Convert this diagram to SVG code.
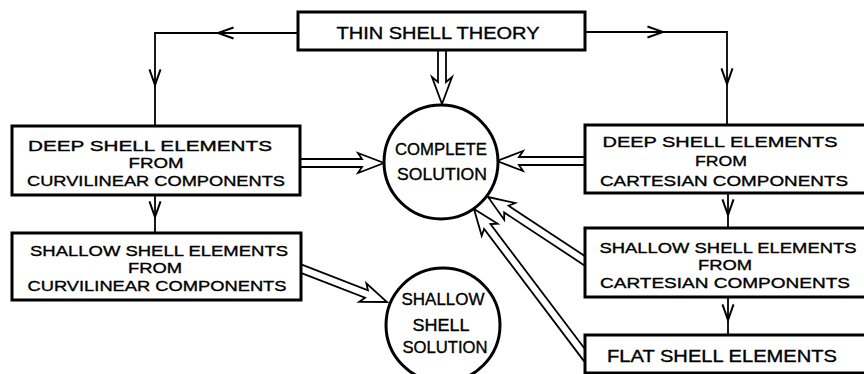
<svg xmlns="http://www.w3.org/2000/svg" width="864" height="374" viewBox="0 0 864 374">
<style>
.box{fill:#fff;stroke:#000;stroke-width:3}
.circ{fill:#fff;stroke:#000;stroke-width:3}
.ln{fill:none;stroke:#000;stroke-width:1.8}
.hol{fill:#fff;stroke:#000;stroke-width:1.8;stroke-linejoin:miter}
text{font-family:"Liberation Sans",Arial,sans-serif;font-size:15px;fill:#000;text-anchor:middle;stroke:#000;stroke-width:0.35}
.big{font-size:17px}
</style>
<defs>
<marker id="v" markerUnits="userSpaceOnUse" markerWidth="20" markerHeight="20" refX="0" refY="0" viewBox="-16 -8 18 16" orient="auto" overflow="visible">
<path d="M-14,-5 L0,0 L-14,5" fill="none" stroke="#000" stroke-width="1.8"/>
</marker>
</defs>
<rect width="864" height="374" fill="#fff"/>
<g id="connectors">
<path class="ln" d="M298,33 H218" marker-end="url(#v)"/>
<path class="ln" d="M218,33 H155 V85" marker-end="url(#v)"/>
<path class="ln" d="M155,85 V126"/>
<path class="ln" d="M585,32 H663" marker-end="url(#v)"/>
<path class="ln" d="M663,32 H727 V84" marker-end="url(#v)"/>
<path class="ln" d="M727,84 V125"/>
<path class="ln" d="M155,195 V217" marker-end="url(#v)"/>
<path class="ln" d="M155,217 V233"/>
<path class="ln" d="M728,193 V215" marker-end="url(#v)"/>
<path class="ln" d="M728,215 V228"/>
<path class="ln" d="M728,297 V320" marker-end="url(#v)"/>
<path class="ln" d="M728,320 V335"/>
<path class="hol" transform="translate(442,104) rotate(90)" d="M-56,-4 L-22,-4 L-27,-10 L0,0 L-27,10 L-22,4 L-56,4"/>
<path class="hol" transform="translate(384,163)" d="M-86,-4 L-22,-4 L-26,-10 L0,0 L-26,10 L-22,4 L-86,4"/>
<path class="hol" transform="translate(497,161) rotate(180)" d="M-90,-4 L-22,-4 L-26,-10 L0,0 L-26,10 L-22,4 L-90,4"/>
<path class="hol" transform="translate(488,197) rotate(213.4)" d="M-120,-4 L-22,-4 L-26,-10 L0,0 L-26,10 L-22,4 L-120,4"/>
<path class="hol" transform="translate(474,209) rotate(232.9)" d="M-188,-4 L-22,-4 L-26,-10 L0,0 L-26,10 L-22,4 L-188,4"/>
<path class="hol" transform="translate(387,302) rotate(21.2)" d="M-95,-4 L-22,-4 L-26,-10 L0,0 L-26,10 L-22,4 L-95,4"/>
</g>
<g id="thin-shell-theory">
<rect class="box" x="298" y="12" width="287" height="38"/>
<text class="big" x="438" y="39" textLength="203" lengthAdjust="spacingAndGlyphs">THIN SHELL THEORY</text>
</g>
<g id="deep-curvilinear">
<rect class="box" x="12" y="126" width="288" height="69"/>
<text x="150" y="151" textLength="244" lengthAdjust="spacingAndGlyphs">DEEP SHELL ELEMENTS</text>
<text x="156" y="168" textLength="55" lengthAdjust="spacingAndGlyphs">FROM</text>
<text x="156" y="186" textLength="258" lengthAdjust="spacingAndGlyphs">CURVILINEAR COMPONENTS</text>
</g>
<g id="shallow-curvilinear">
<rect class="box" x="12" y="233" width="289" height="67"/>
<text x="159" y="256" textLength="258" lengthAdjust="spacingAndGlyphs">SHALLOW SHELL ELEMENTS</text>
<text x="155" y="273" textLength="54" lengthAdjust="spacingAndGlyphs">FROM</text>
<text x="157" y="291" textLength="259" lengthAdjust="spacingAndGlyphs">CURVILINEAR COMPONENTS</text>
</g>
<g id="deep-cartesian">
<rect class="box" x="585" y="125" width="290" height="68"/>
<text x="720" y="147" textLength="235" lengthAdjust="spacingAndGlyphs">DEEP SHELL ELEMENTS</text>
<text x="721" y="166" textLength="52" lengthAdjust="spacingAndGlyphs">FROM</text>
<text x="724" y="186" textLength="248" lengthAdjust="spacingAndGlyphs">CARTESIAN COMPONENTS</text>
</g>
<g id="shallow-cartesian">
<rect class="box" x="585" y="228" width="290" height="69"/>
<text x="728" y="253" textLength="257" lengthAdjust="spacingAndGlyphs">SHALLOW SHELL ELEMENTS</text>
<text x="725" y="270" textLength="54" lengthAdjust="spacingAndGlyphs">FROM</text>
<text x="725" y="288" textLength="250" lengthAdjust="spacingAndGlyphs">CARTESIAN COMPONENTS</text>
</g>
<g id="flat-shell">
<rect class="box" x="585" y="335" width="290" height="38"/>
<text class="big" x="722" y="362" textLength="230" lengthAdjust="spacingAndGlyphs">FLAT SHELL ELEMENTS</text>
</g>
<g id="complete-solution">
<circle class="circ" cx="441" cy="162" r="57"/>
<text class="big" x="441" y="155" textLength="92" lengthAdjust="spacingAndGlyphs">COMPLETE</text>
<text class="big" x="442" y="180" textLength="90" lengthAdjust="spacingAndGlyphs">SOLUTION</text>
</g>
<g id="shallow-shell-solution">
<circle class="circ" cx="443" cy="325" r="57"/>
<text class="big" x="443" y="305" textLength="83" lengthAdjust="spacingAndGlyphs">SHALLOW</text>
<text class="big" x="441" y="331" textLength="57" lengthAdjust="spacingAndGlyphs">SHELL</text>
<text class="big" x="445" y="353" textLength="85" lengthAdjust="spacingAndGlyphs">SOLUTION</text>
</g>
</svg>
